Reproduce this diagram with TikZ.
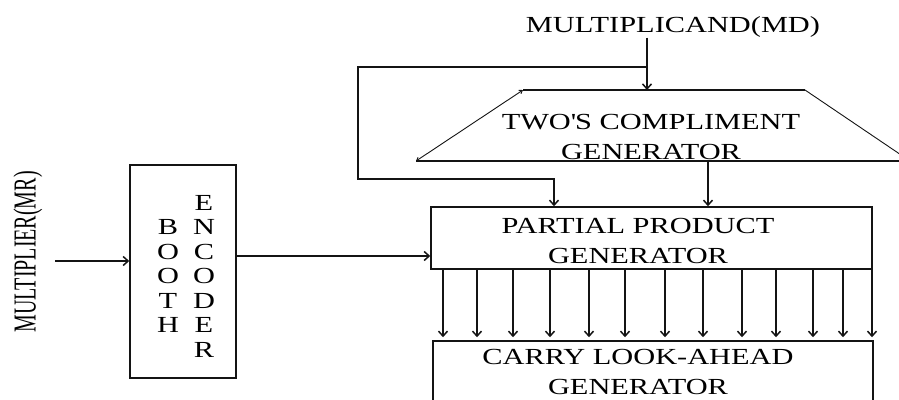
\documentclass[tikz,border=0pt]{standalone}
\usepackage{fontspec}
\usepackage{graphicx}
\usepackage{tikz}
\usetikzlibrary{calc,positioning,arrows.meta}
\setmainfont[FakeStretch=1.32]{Liberation Serif}
\newfontfamily\mrfont{Liberation Serif}
\definecolor{wirecol}{RGB}{20,20,20}

\begin{document}
\begin{tikzpicture}[x=1pt, y=-1pt,
    wire/.style={draw=wirecol, line width=1.5pt},
    arr/.style={wire, -{Straight Barb[length=5pt,width=9pt]}},
    blk/.style={draw=wirecol, line width=1.5pt, inner sep=0pt},
    lbl/.style={font=\fontsize{23}{30}\selectfont, align=center, inner sep=0pt},
    col/.style={font=\fontsize{23}{24.5}\selectfont, align=center, inner sep=0pt}]
  \useasboundingbox (0,0) rectangle (899,399);
  \clip (0,0) rectangle (899,399);

  % Inputs
  \node[lbl] (md) at (673,27) {MULTIPLICAND(MD)};
  \node[rotate=90, inner sep=0pt, font=\mrfont\fontsize{20}{24}\selectfont] (mr) at (28,252)
    {\scalebox{1}[1.6]{MULTIPLIER(MR)}};

  % Booth encoder
  \node[blk, minimum width=106, minimum height=213] (booth) at (183,271.5) {};
  \node[col] (booth-a) at (168,276) {B\\O\\O\\T\\H};
  \node[col] (booth-b) at (204,276) {E\\N\\C\\O\\D\\E\\R};

  % Two's compliment generator (trapezium)
  \coordinate (tl) at (523,90);
  \coordinate (tr) at (805,90);
  \coordinate (bl) at (416,161);
  \coordinate (br) at (910,161);
  \draw[wire] (tl) -- (tr);
  \draw[wire] (bl) -- (br);
  \draw[draw=wirecol, line width=0.9pt, {Straight Barb[length=3pt,width=4pt]}-{Straight Barb[length=3pt,width=4pt]}]
    (bl) -- (tl);
  \draw[draw=wirecol, line width=0.9pt] (tr) -- (br);
  \node[lbl] (tcg) at (651,137) {TWO\textquotesingle S COMPLIMENT\\GENERATOR};

  % Partial product generator and carry look-ahead
  \node[blk, minimum width=441, minimum height=62] (ppg) at (651.5,238) {};
  \node[lbl] (ppg-txt) at (638,241) {PARTIAL PRODUCT\\GENERATOR};
  \node[blk, minimum width=440, minimum height=89] (cla) at (653,385.5) {};
  \node[lbl] (cla-txt) at (638,372) {CARRY LOOK-AHEAD\\GENERATOR};

  % Multiplicand wiring
  \coordinate (split) at (647,67);
  \coordinate (bypass) at (358,67);
  \coordinate (drop) at (554,179);
  \coordinate (tcgout) at (708,161);
  \draw[arr] (md.south -| split) -- (split |- tl);
  \draw[arr] (split) -- (bypass) |- (drop) -- (drop |- ppg.north);
  \draw[arr] (tcgout) -- (tcgout |- ppg.north);

  % Multiplier wiring
  \coordinate (mrin) at (55,261);
  \draw[arr] (mrin) -- (mrin -| booth.west);
  \draw[arr] (booth.east |- 0,256) -- (ppg.west |- 0,256);

  % Partial products
  \foreach \px in {443,477,513,550,589,625,665,703,742,776,813,843,872}{
    \draw[arr, shorten >=3pt] (ppg.south -| \px,0) -- (cla.north -| \px,0);
  }
\end{tikzpicture}
\end{document}
